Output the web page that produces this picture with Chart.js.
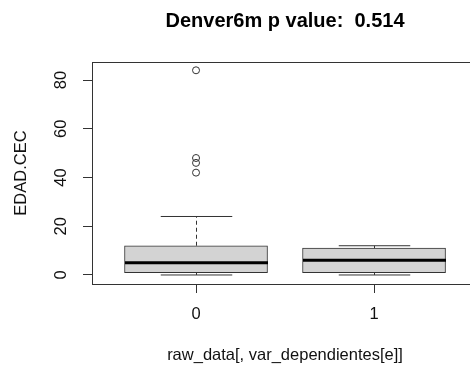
<!DOCTYPE html>
<html>
<head>
<meta charset="utf-8">
<script src="https://cdn.jsdelivr.net/npm/chart.js@4.4.1/dist/chart.umd.min.js"></script>
<style>
  html, body { margin: 0; padding: 0; background: #fff; overflow: hidden; }
  #wrap { width: 470px; height: 367px; overflow: hidden; }
</style>
</head>
<body>
<div id="wrap"><canvas id="box" width="490" height="367"></canvas></div>
<script>
// boxplot of EDAD.CEC by group
var groups = ['0', '1'];
var lowWhisker = [0, 0];
var q1 = [1, 1];
var medians = [5, 6];
var q3 = [12, 11];
var highWhisker = [24, 12];
var outliers = [[42, 46, 48, 84], []];
var yTicks = [0, 20, 40, 60, 80];

var font = "'Liberation Sans', Arial, sans-serif";
var ink = '#333';

var boxData = groups.map(function (g, i) { return {x: i + 1, y: [q1[i], q3[i]]}; });
var outlierData = [];
outliers.forEach(function (list, i) {
    list.forEach(function (v) { outlierData.push({x: i + 1, y: v}); });
});

// whiskers, staples and median lines, R style
var boxExtras = {
    id: 'boxExtras',
    afterDatasetsDraw: function (chart) {
        var ctx = chart.ctx, xs = chart.scales.x, ys = chart.scales.y;
        var bars = chart.getDatasetMeta(0).data;
        ctx.save();
        groups.forEach(function (g, i) {
            var cx = Math.round(xs.getPixelForValue(i + 1)) + 0.5;
            var half = bars[i].width / 2;
            var yLo = ys.getPixelForValue(lowWhisker[i]), yQ1 = ys.getPixelForValue(q1[i]);
            var yQ3 = ys.getPixelForValue(q3[i]), yHi = ys.getPixelForValue(highWhisker[i]);
            ctx.strokeStyle = ink;
            ctx.lineWidth = 1;
            ctx.setLineDash([4, 3]);
            ctx.beginPath();
            ctx.moveTo(cx, yQ3); ctx.lineTo(cx, yHi);
            ctx.moveTo(cx, yQ1); ctx.lineTo(cx, yLo);
            ctx.stroke();
            ctx.setLineDash([]);
            ctx.beginPath();
            ctx.moveTo(cx - half / 2, yHi); ctx.lineTo(cx + half / 2, yHi);
            ctx.moveTo(cx - half / 2, yLo); ctx.lineTo(cx + half / 2, yLo);
            ctx.stroke();
            var yMed = ys.getPixelForValue(medians[i]);
            ctx.strokeStyle = '#000';
            ctx.lineWidth = 3;
            ctx.beginPath();
            ctx.moveTo(cx - half, yMed); ctx.lineTo(cx + half, yMed);
            ctx.stroke();
        });
        // plot frame
        var a = chart.chartArea;
        ctx.strokeStyle = ink;
        ctx.lineWidth = 1;
        ctx.strokeRect(Math.round(a.left) + 0.5, Math.round(a.top) + 0.5,
            Math.round(a.right - a.left), Math.round(a.bottom - a.top));
        ctx.restore();
    }
};

new Chart(document.getElementById('box'), {
    type: 'bar',
    data: {
        datasets: [{
            data: boxData,
            backgroundColor: '#d3d3d3',
            borderColor: ink,
            borderWidth: 1,
            borderSkipped: false,
            barThickness: 143
        }, {
            type: 'scatter',
            data: outlierData,
            pointStyle: 'circle',
            pointRadius: 3.5,
            pointBorderWidth: 1,
            borderColor: ink,
            backgroundColor: 'rgba(0,0,0,0)'
        }]
    },
    options: {
        responsive: false,
        animation: false,
        events: [],
        layout: {padding: {left: 0, right: 12, top: 0, bottom: 0}},
        plugins: {
            legend: {display: false},
            tooltip: {enabled: false},
            title: {
                display: true,
                fullSize: false,
                text: 'Denver6m p value:  0.514',
                color: '#000',
                font: {family: font, size: 20, weight: 'bold'},
                padding: {top: 9, bottom: 29}
            }
        },
        scales: {
            x: {
                type: 'linear',
                min: 0.4157,
                max: 2.584,
                offset: false,
                afterBuildTicks: function (s) { s.ticks = groups.map(function (g, i) { return {value: i + 1}; }); },
                afterFit: function (s) { s.height = 83; },
                ticks: {
                    callback: function (v) { return groups[v - 1]; },
                    color: '#111',
                    font: {family: font, size: 16.5},
                    padding: 12,
                    maxRotation: 0
                },
                grid: {offset: false, drawOnChartArea: false, drawTicks: true, tickLength: 9, color: ink},
                border: {display: false},
                title: {
                    display: true,
                    text: 'raw_data[, var_dependientes[e]]',
                    color: '#111',
                    font: {family: font, size: 16.5},
                    padding: {top: 0, bottom: 1.5}
                }
            },
            y: {
                min: -3.7,
                max: 87.4,
                afterBuildTicks: function (s) { s.ticks = yTicks.map(function (v) { return {value: v}; }); },
                afterFit: function (s) { s.width = 92; },
                ticks: {
                    color: '#111',
                    font: {family: font, size: 16.5},
                    minRotation: 90,
                    maxRotation: 90,
                    crossAlign: 'center',
                    padding: 12
                },
                grid: {drawOnChartArea: false, drawTicks: true, tickLength: 9, color: ink},
                border: {display: false},
                title: {
                    display: true,
                    text: 'EDAD.CEC',
                    color: '#111',
                    font: {family: font, size: 16.5},
                    padding: {top: 12, bottom: 0}
                }
            }
        }
    },
    plugins: [boxExtras]
});
</script>
</body>
</html>
